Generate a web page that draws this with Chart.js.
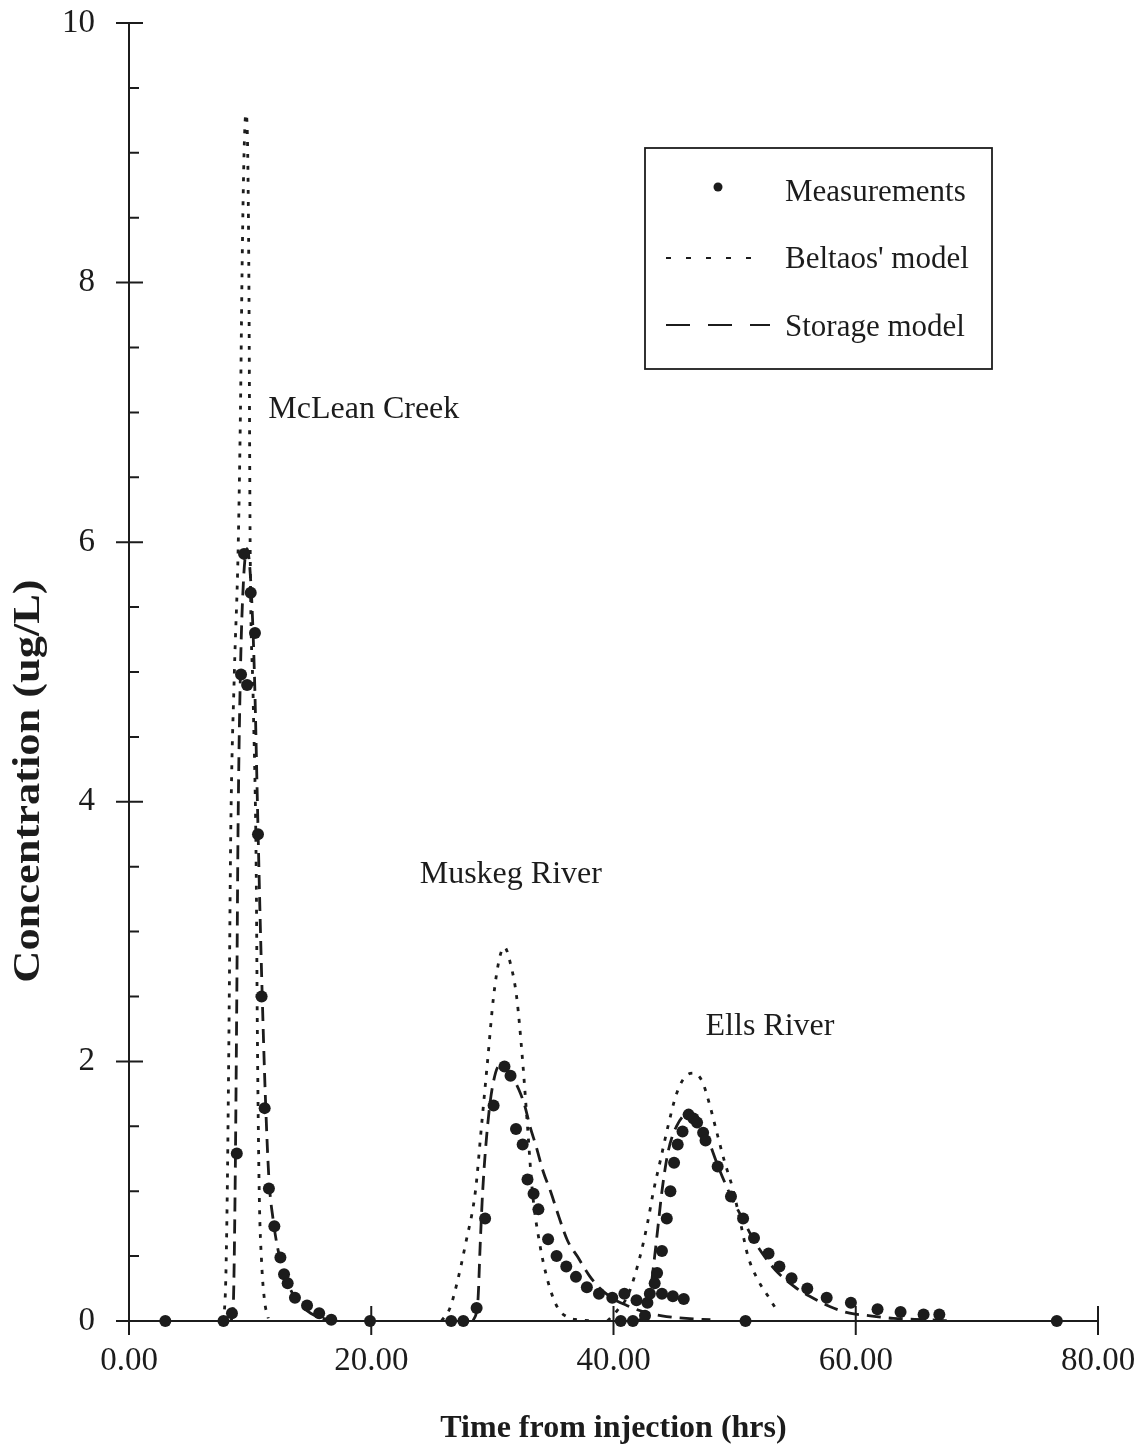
<!DOCTYPE html>
<html>
<head>
<meta charset="utf-8">
<title>Tracer concentration vs time</title>
<script src="https://cdn.jsdelivr.net/npm/chart.js@4.4.0/dist/chart.umd.min.js"></script>
<style>
    html, body { margin: 0; padding: 0; background: #fff; }
    #wrap { width: 1140px; height: 1452px; }
</style>
</head>
<body>
<div id="wrap"><canvas id="chart" width="1140" height="1452"></canvas></div>
<script>
// --- DATA ---
// Measurements, time (hrs) and concentration (ug/L)
const mcleanMeasT = [3.0, 7.8, 8.5, 8.9, 9.25, 9.5, 9.75, 10.05, 10.4, 10.65, 10.95, 11.2, 11.55, 12.0, 12.5, 12.8, 13.1, 13.7, 14.7, 15.7, 16.7, 19.9];
const mcleanMeasC = [0, 0, 0.06, 1.29, 4.98, 5.91, 4.9, 5.61, 5.3, 3.75, 2.5, 1.64, 1.02, 0.73, 0.49, 0.36, 0.29, 0.18, 0.12, 0.06, 0.01, 0];

const muskegMeasT = [26.6, 27.6, 28.7, 29.4, 30.1, 31.0, 31.5, 31.95, 32.5, 32.9, 33.4, 33.8, 34.6, 35.3, 36.1, 36.9, 37.8, 38.8, 39.9, 40.9, 41.9, 44.0, 44.9, 45.8];
const muskegMeasC = [0, 0, 0.1, 0.79, 1.66, 1.96, 1.89, 1.48, 1.36, 1.09, 0.98, 0.86, 0.63, 0.5, 0.42, 0.34, 0.26, 0.21, 0.18, 0.21, 0.16, 0.21, 0.19, 0.17];

const ellsMeasT = [40.6, 41.6, 42.6, 42.8, 43.0, 43.4, 43.6, 44.0, 44.4, 44.7, 45.0, 45.3, 45.7, 46.2, 46.6, 46.9, 47.4, 47.6, 48.6, 49.7, 50.7, 50.9, 51.6, 52.8, 53.7, 54.7, 56.0, 57.6, 59.6, 61.8, 63.7, 65.6, 66.9, 76.6];
const ellsMeasC = [0, 0, 0.04, 0.14, 0.21, 0.29, 0.37, 0.54, 0.79, 1.0, 1.22, 1.36, 1.46, 1.59, 1.56, 1.53, 1.45, 1.39, 1.19, 0.96, 0.79, 0, 0.64, 0.52, 0.42, 0.33, 0.25, 0.18, 0.14, 0.09, 0.07, 0.05, 0.05, 0];

// Beltaos' model (dotted)
const beltaosMcleanT = [7.7, 7.95, 8.1, 8.25, 8.4, 8.7, 9.0, 9.2, 9.35, 9.5, 9.65, 9.8, 9.9, 10.0, 10.25, 10.5, 10.6, 10.75, 10.95, 11.2, 11.5];
const beltaosMcleanC = [0, 0.2, 0.9, 2.2, 3.76, 5.0, 5.9, 7.0, 8.2, 9.0, 9.3, 9.0, 8.0, 6.0, 4.8, 3.5, 2.2, 1.0, 0.45, 0.15, 0.02];
const beltaosMuskegT = [25.8, 26.5, 27.1, 27.8, 28.6, 29.1, 29.6, 30.1, 30.6, 31.0, 31.5, 32.0, 32.5, 32.9, 33.3, 33.9, 34.6, 35.4, 36.2, 37.0, 38.5];
const beltaosMuskegC = [0, 0.1, 0.3, 0.6, 1.0, 1.5, 2.0, 2.5, 2.8, 2.88, 2.75, 2.5, 2.0, 1.5, 1.0, 0.6, 0.3, 0.1, 0.03, 0.01, 0];
const beltaosEllsT = [39.5, 40.3, 41.2, 42.2, 42.8, 43.3, 43.9, 44.5, 45.2, 45.9, 46.6, 47.3, 47.9, 48.4, 49.1, 49.9, 50.5, 51.1, 51.9, 52.7, 53.5];
const beltaosEllsC = [0, 0.08, 0.2, 0.5, 0.75, 1.0, 1.25, 1.5, 1.75, 1.88, 1.91, 1.85, 1.68, 1.5, 1.25, 1.0, 0.75, 0.5, 0.32, 0.2, 0.08];

// Storage model (dashed)
const storageMcleanT = [8.4, 8.6, 8.75, 8.9, 9.0, 9.2, 9.45, 9.75, 10.05, 10.35, 10.6, 10.8, 11.0, 11.25, 11.55, 11.9, 12.3, 12.8, 13.4, 14.1, 15.0, 16.0, 17.0];
const storageMcleanC = [0, 0.1, 0.93, 2.5, 3.76, 5.0, 5.7, 5.95, 5.7, 5.0, 4.0, 3.2, 2.5, 1.75, 1.1, 0.78, 0.55, 0.37, 0.23, 0.13, 0.06, 0.02, 0];
const storageMuskegT = [28.4, 28.8, 29.0, 29.2, 29.6, 30.0, 30.6, 31.5, 32.2, 32.7, 33.1, 33.6, 34.2, 34.8, 35.5, 36.2, 37.0, 38.0, 38.9, 40.0, 41.1, 42.5, 44.0, 46.0, 48.0];
const storageMuskegC = [0, 0.15, 0.6, 1.0, 1.5, 1.8, 1.97, 1.9, 1.78, 1.65, 1.5, 1.35, 1.15, 1.0, 0.8, 0.62, 0.5, 0.35, 0.25, 0.17, 0.12, 0.07, 0.04, 0.02, 0.01];
const storageEllsT = [42.0, 42.6, 43.0, 43.4, 43.7, 44.0, 44.5, 45.2, 46.2, 47.0, 47.8, 48.6, 49.7, 50.7, 51.6, 52.6, 53.6, 55.0, 56.2, 57.9, 59.5, 61.2, 63.1, 66.0, 68.0];
const storageEllsC = [0, 0.05, 0.2, 0.5, 0.75, 1.0, 1.3, 1.5, 1.6, 1.55, 1.4, 1.2, 0.96, 0.78, 0.62, 0.48, 0.37, 0.26, 0.19, 0.11, 0.06, 0.04, 0.02, 0.01, 0];

// River labels, placed in data coordinates
const riverNames = ['McLean Creek', 'Muskeg River', 'Ells River'];
const riverLabelT = [11.5, 24.0, 47.6];
const riverLabelC = [7.02, 3.44, 2.27];

const legendLabels = ['Measurements', "Beltaos' model", 'Storage model'];

// --- STYLE ---
const INK = '#1c1c1c';
const SERIF = '"Liberation Serif", "Times New Roman", serif';

function toPoints(ts, cs) {
    return ts.map((t, i) => ({ x: t, y: cs[i] }));
}

const measStyle = {
    showLine: false, pointRadius: 6, pointHoverRadius: 6,
    pointBackgroundColor: INK, pointBorderWidth: 0, clip: false
};
const beltaosStyle = {
    showLine: true, borderColor: INK, borderWidth: 2.8, borderDash: [4, 8],
    pointRadius: 0, cubicInterpolationMode: 'monotone', fill: false, clip: false
};
const storageStyle = {
    showLine: true, borderColor: INK, borderWidth: 2.8, borderDash: [14, 8],
    pointRadius: 0, cubicInterpolationMode: 'monotone', fill: false, clip: false
};

// --- PLUGINS ---
// crossing major ticks and inner minor ticks, like the original
const axisTicks = {
    id: 'axisTicks',
    afterDraw(chart) {
        const { ctx, scales: { x, y } } = chart;
        ctx.save();
        ctx.strokeStyle = INK;
        ctx.lineWidth = 2;
        ctx.beginPath();
        const x0 = x.left;
        y.ticks.forEach((t, i) => {
            const p = y.getPixelForValue(t.value);
            ctx.moveTo(x0 - 13, p); ctx.lineTo(x0 + 14, p);
            if (i < y.ticks.length - 1) {
                const step = (y.ticks[i + 1].value - t.value) / 4;
                for (let k = 1; k < 4; k++) {
                    const pm = y.getPixelForValue(t.value + step * k);
                    ctx.moveTo(x0, pm); ctx.lineTo(x0 + 10, pm);
                }
            }
        });
        const y0 = y.bottom;
        x.ticks.forEach(t => {
            const p = x.getPixelForValue(t.value);
            ctx.moveTo(p, t.value === x.min ? y0 : y0 - 15);
            ctx.lineTo(p, y0 + 14);
        });
        ctx.stroke();
        ctx.restore();
    }
};

const riverLabels = {
    id: 'riverLabels',
    afterDatasetsDraw(chart) {
        const { ctx, scales: { x, y } } = chart;
        ctx.save();
        ctx.fillStyle = INK;
        ctx.font = '32px ' + SERIF;
        ctx.textAlign = 'left';
        ctx.textBaseline = 'middle';
        riverNames.forEach((name, i) => {
            ctx.fillText(name, x.getPixelForValue(riverLabelT[i]), y.getPixelForValue(riverLabelC[i]));
        });
        ctx.restore();
    }
};

const yTitle = {
    id: 'yTitle',
    afterDraw(chart) {
        const { ctx } = chart;
        ctx.save();
        ctx.translate(29, 781);
        ctx.rotate(-Math.PI / 2);
        ctx.scale(1.2, 1);
        ctx.fillStyle = INK;
        ctx.font = 'bold 37px ' + SERIF;
        ctx.textAlign = 'center';
        ctx.textBaseline = 'middle';
        ctx.fillText('Concentration (ug/L)', 0, 0);
        ctx.restore();
    }
};

const boxLegend = {
    id: 'boxLegend',
    afterDraw(chart) {
        const { ctx } = chart;
        const box = { x: 645, y: 148, w: 347, h: 221 };
        const rows = [193, 260, 328];
        ctx.save();
        ctx.fillStyle = '#fff';
        ctx.fillRect(box.x, box.y, box.w, box.h);
        ctx.strokeStyle = INK;
        ctx.lineWidth = 1.8;
        ctx.strokeRect(box.x, box.y, box.w, box.h);

        // measurement marker
        ctx.fillStyle = INK;
        ctx.beginPath();
        ctx.arc(718, rows[0] - 6, 4.5, 0, Math.PI * 2);
        ctx.fill();

        // dotted sample
        ctx.lineWidth = 2;
        ctx.setLineDash([5, 15]);
        ctx.beginPath();
        ctx.moveTo(666, rows[1] - 2); ctx.lineTo(765, rows[1] - 2);
        ctx.stroke();

        // dashed sample
        ctx.setLineDash([24, 18]);
        ctx.beginPath();
        ctx.moveTo(666, rows[2] - 3); ctx.lineTo(770, rows[2] - 3);
        ctx.stroke();
        ctx.setLineDash([]);

        ctx.font = '31px ' + SERIF;
        ctx.textAlign = 'left';
        ctx.textBaseline = 'middle';
        legendLabels.forEach((txt, i) => ctx.fillText(txt, 785, rows[i]));
        ctx.restore();
    }
};

// --- CHART ---
Chart.defaults.font.family = SERIF;
Chart.defaults.color = INK;

new Chart(document.getElementById('chart'), {
    type: 'scatter',
    data: {
        datasets: [
            { label: 'Measurements', data: toPoints(mcleanMeasT, mcleanMeasC), ...measStyle },
            { label: 'Measurements', data: toPoints(muskegMeasT, muskegMeasC), ...measStyle },
            { label: 'Measurements', data: toPoints(ellsMeasT, ellsMeasC), ...measStyle },
            { label: "Beltaos' model", data: toPoints(beltaosMcleanT, beltaosMcleanC), ...beltaosStyle },
            { label: "Beltaos' model", data: toPoints(beltaosMuskegT, beltaosMuskegC), ...beltaosStyle },
            { label: "Beltaos' model", data: toPoints(beltaosEllsT, beltaosEllsC), ...beltaosStyle },
            { label: 'Storage model', data: toPoints(storageMcleanT, storageMcleanC), ...storageStyle },
            { label: 'Storage model', data: toPoints(storageMuskegT, storageMuskegC), ...storageStyle },
            { label: 'Storage model', data: toPoints(storageEllsT, storageEllsC), ...storageStyle }
        ]
    },
    options: {
        responsive: false,
        animation: false,
        layout: { autoPadding: false, padding: { top: 23, right: 42, left: 0, bottom: 0 } },
        plugins: {
            legend: { display: false },
            tooltip: { enabled: false }
        },
        scales: {
            x: {
                type: 'linear',
                min: 0, max: 80,
                grid: { display: false, drawTicks: false },
                border: { display: true, color: INK, width: 2 },
                ticks: {
                    stepSize: 20,
                    padding: 21,
                    color: INK,
                    font: { size: 33 },
                    callback: v => v.toFixed(2)
                },
                title: {
                    display: true,
                    text: 'Time from injection (hrs)',
                    color: INK,
                    font: { size: 32, weight: 'bold' },
                    padding: { top: 0, bottom: 4 }
                },
                afterFit: s => {
                    s.height = 131;
                    s.paddingLeft = 0; s.paddingRight = 0;
                }
            },
            y: {
                min: 0, max: 10,
                grid: { display: false, drawTicks: false },
                border: { display: true, color: INK, width: 2 },
                ticks: {
                    stepSize: 2,
                    padding: 34,
                    color: INK,
                    font: { size: 33 }
                },
                afterFit: s => {
                    s.width = 129;
                    s.paddingTop = 0; s.paddingBottom = 0;
                }
            }
        }
    },
    plugins: [axisTicks, riverLabels, yTitle, boxLegend]
});
</script>
</body>
</html>
